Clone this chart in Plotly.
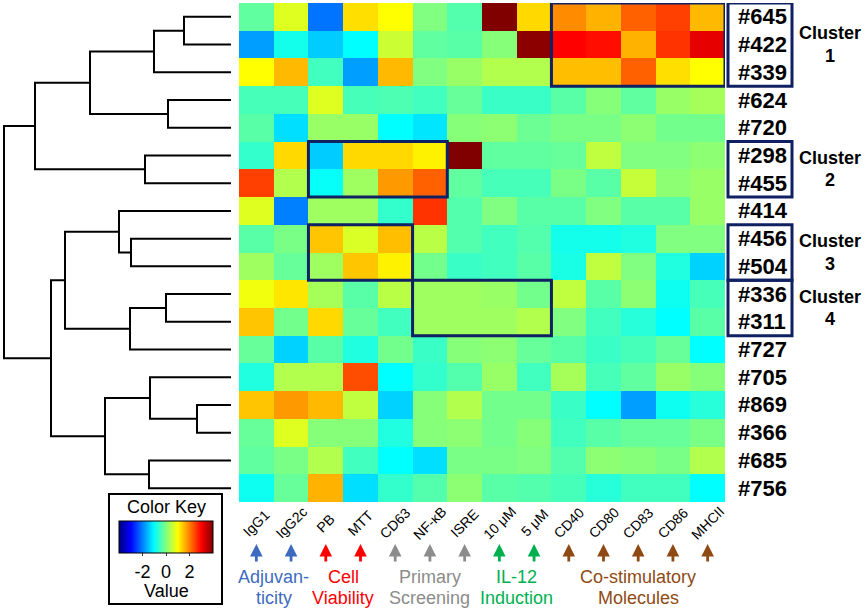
import plotly.graph_objects as go

# ---------------- data ----------------
columns = ["IgG1", "IgG2c", "PB", "MTT", "CD63", "NF-κB", "ISRE",
           "10 μM", "5 μM", "CD40", "CD80", "CD83", "CD86", "MHCII"]
rows = ["#645", "#422", "#339", "#624", "#720", "#298", "#455", "#414", "#456",
        "#504", "#336", "#311", "#727", "#705", "#869", "#366", "#685", "#756"]

r645 = [-0.25, 0.75, -2.1, 1.25, 1.0, 0.0, -0.35, 4.0, 1.3, 1.9, 1.6, 2.25, 2.5, 1.55]
r422 = [-1.75, -0.85, -1.4, -1.0, 0.6, -0.25, -0.3, 0.05, 3.9, 3.0, 2.9, 1.6, 2.6, 3.2]
r339 = [1.0, 1.55, -0.5, -1.75, 1.55, 0.0, 0.2, 0.4, 0.4, 1.5, 1.5, 2.25, 1.25, 1.0]
r624 = [-0.45, -0.45, 0.75, -0.45, -0.4, -0.5, -0.2, -0.55, -0.55, -0.3, 0.05, -0.25, 0.2, 0.3]
r720 = [-0.3, -1.25, 0.2, 0.2, -1.0, -1.2, 0.05, 0.1, -0.15, -0.05, -0.05, 0.1, -0.1, -0.1]
r298 = [-0.6, 1.3, -1.4, 1.3, 1.3, 1.1, 4.0, -0.25, -0.25, -0.2, 0.5, 0.0, 0.0, 0.1]
r455 = [2.5, 0.4, -0.95, 0.25, 1.8, 2.25, -0.25, -0.45, -0.45, -0.05, -0.3, 0.55, 0.1, 0.2]
r414 = [0.75, -2.0, 0.25, 0.25, -0.6, 2.6, -0.35, 0.0, -0.3, -0.3, 0.0, -0.3, -0.3, 0.2]
r456 = [-0.3, -0.05, 1.45, 0.7, 1.5, 0.45, -0.35, -0.5, -0.35, -0.85, -0.85, -0.75, 0.0, 0.0]
r504 = [0.25, -0.2, 0.25, 1.45, 1.1, -0.1, -0.55, -0.5, -0.3, -0.8, 0.5, 0.0, -0.75, -1.35]
r336 = [0.9, 1.2, 0.3, -0.3, 0.45, 0.25, 0.25, 0.2, -0.1, 0.5, -0.3, 0.1, -0.9, -0.45]
r311 = [1.45, -0.1, 1.3, -0.2, -0.5, 0.25, 0.25, 0.25, 0.4, 0.0, -0.5, -0.7, -1.0, -0.3]
r727 = [-0.2, -1.35, -0.3, -0.75, -0.1, -0.55, 0.05, 0.1, -0.2, -0.3, -0.55, -0.45, -0.2, -1.0]
r705 = [-0.75, 0.4, 0.4, 2.4, -1.0, -0.6, -0.35, 0.2, -0.5, 0.3, -0.45, -0.25, 0.2, 0.05]
r869 = [1.45, 1.8, 1.55, 0.5, -1.35, 0.05, 0.4, -0.1, -0.1, -0.55, -1.0, -1.75, -0.9, -0.7]
r366 = [-0.2, 0.75, 0.05, 0.05, -0.75, 0.05, 0.1, -0.1, 0.05, -0.5, -0.3, -0.2, -0.2, -0.05]
r685 = [-0.25, -0.05, 0.4, -0.5, -1.0, -1.25, -0.05, -0.05, 0.0, -0.35, 0.1, 0.05, -0.05, 0.4]
r756 = [-0.9, -0.2, 1.6, -1.25, -0.6, -0.35, 0.1, -0.3, -0.35, -0.45, -0.7, -0.5, -0.5, -1.0]
values = [r645, r422, r339, r624, r720, r298, r455, r414, r456,
          r504, r336, r311, r727, r705, r869, r366, r685, r756]

# dendrogram linkage (leaf indices in display order, new nodes numbered from 18)
link_left = [0, 18, 3, 19, 5, 21, 8, 7, 10, 26, 25, 14, 13, 16, 30, 28, 23]
link_right = [1, 2, 4, 20, 6, 22, 9, 24, 11, 12, 27, 15, 29, 17, 31, 32, 33]
link_height = [2.35, 3.85, 3.15, 7.05, 4.3, 9.8, 5.0, 5.6, 3.25, 5.05, 8.3,
               1.7, 4.05, 4.1, 6.3, 9.0, 11.35]

categories = [("Adjuvan-", "ticity", "#3d6bbf", 0.5),
              ("Cell", "Viability", "#ff0000", 2.5),
              ("Primary", "Screening", "#8c8c8c", 5.0),
              ("IL-12", "Induction", "#00b050", 7.5),
              ("Co-stimulatory", "Molecules", "#8f4a14", 11.0)]
arrow_colors = ["#3d6bbf", "#3d6bbf", "#ff0000", "#ff0000", "#8c8c8c", "#8c8c8c", "#8c8c8c",
                "#00b050", "#00b050", "#8f4a14", "#8f4a14", "#8f4a14", "#8f4a14", "#8f4a14"]

# highlighted blocks: (row0, row1, col0, col1)
heat_boxes = [(0, 2, 9, 13), (5, 6, 2, 5), (8, 9, 2, 4), (10, 11, 5, 8)]
clusters = [("1", 0, 2), ("2", 5, 6), ("3", 8, 9), ("4", 10, 11)]

W, H = 865, 611
FONT = "Liberation Sans, Arial, sans-serif"
NAVY = "#0f2163"

def px_x(p):
    return p / W

def px_y(p):
    return (H - p) / H

jet = [[0.0, "rgb(0,0,128)"], [0.125, "rgb(0,0,255)"], [0.375, "rgb(0,255,255)"],
       [0.625, "rgb(255,255,0)"], [0.875, "rgb(255,0,0)"], [1.0, "rgb(128,0,0)"]]

fig = go.Figure()

fig.add_trace(go.Heatmap(
    z=values, x=list(range(len(columns))), y=list(range(len(rows))),
    colorscale=jet, zmin=-4, zmax=4, xgap=0, ygap=0,
    colorbar=dict(orientation="h", thickness=32, thicknessmode="pixels",
                  len=94, lenmode="pixels", x=px_x(166), xanchor="center",
                  y=px_y(521), yanchor="top", xpad=0, ypad=0,
                  outlinewidth=1, outlinecolor="black",
                  tickvals=[-2, 0, 2], ticktext=["-2", "0", "2"],
                  ticks="outside", ticklen=3, tickcolor="#333",
                  tickfont=dict(family=FONT, size=18, color="black")),
    hoverinfo="skip"))

# dendrogram
pos = {i: float(i) for i in range(len(rows))}
hgt = {i: 0.0 for i in range(len(rows))}
dx, dy = [], []
for k, (a, b, h) in enumerate(zip(link_left, link_right, link_height)):
    node = len(rows) + k
    dx += [hgt[a], h, h, hgt[b], None]
    dy += [pos[a], pos[a], pos[b], pos[b], None]
    pos[node] = (pos[a] + pos[b]) / 2
    hgt[node] = h
fig.add_trace(go.Scatter(x=dx, y=dy, mode="lines", xaxis="x2", yaxis="y",
                         line=dict(color="black", width=2), hoverinfo="skip",
                         showlegend=False))

shapes = []
for r0, r1, c0, c1 in heat_boxes:
    shapes.append(dict(type="rect", xref="x", yref="y", x0=c0 - 0.5, x1=c1 + 0.5,
                       y0=r0 - 0.5, y1=r1 + 0.5, line=dict(color=NAVY, width=3)))
for name, r0, r1 in clusters:
    shapes.append(dict(type="rect", xref="paper", yref="y", x0=px_x(728), x1=px_x(792),
                       y0=r0 - 0.5, y1=r1 + 0.5, line=dict(color=NAVY, width=3)))
# color key frame
shapes.append(dict(type="rect", xref="paper", yref="paper", x0=px_x(109), x1=px_x(222),
                   y0=px_y(604), y1=px_y(494), line=dict(color="black", width=2)))

ann = []
for i, r in enumerate(rows):
    ann.append(dict(x=px_x(736), xref="paper", y=i, yref="y", text="<b>%s</b>" % r,
                    showarrow=False, xanchor="left", yanchor="middle",
                    font=dict(family=FONT, size=22, color="black")))
for name, r0, r1 in clusters:
    mid = (r0 + r1) / 2
    ann.append(dict(x=px_x(830), xref="paper", y=mid - 0.4, yref="y",
                    text="<b>Cluster</b>", showarrow=False, xanchor="center",
                    yanchor="middle", font=dict(family=FONT, size=18, color="black")))
    ann.append(dict(x=px_x(830), xref="paper", y=mid + 0.4, yref="y",
                    text="<b>%s</b>" % name, showarrow=False, xanchor="center",
                    yanchor="middle", font=dict(family=FONT, size=18, color="black")))
for j, c in enumerate(columns):
    ann.append(dict(x=j, xref="x", y=px_y(523), yref="paper", text=c, textangle=-45,
                    showarrow=False, xanchor="center", yanchor="middle",
                    font=dict(family=FONT, size=14, color="black")))
    ann.append(dict(x=j, xref="x", y=px_y(544), yref="paper", text="", showarrow=True,
                    ax=0, ay=19, arrowhead=2, arrowsize=0.9,
                    arrowwidth=2.8, arrowcolor=arrow_colors[j]))
for l1, l2, col, xc in categories:
    ann.append(dict(x=xc, xref="x", y=px_y(577), yref="paper", text=l1, showarrow=False,
                    xanchor="center", yanchor="middle",
                    font=dict(family=FONT, size=18, color=col)))
    ann.append(dict(x=xc, xref="x", y=px_y(598), yref="paper", text=l2, showarrow=False,
                    xanchor="center", yanchor="middle",
                    font=dict(family=FONT, size=18, color=col)))
ann.append(dict(x=px_x(166), xref="paper", y=px_y(507), yref="paper", text="Color Key",
                showarrow=False, xanchor="center", yanchor="middle",
                font=dict(family=FONT, size=18, color="black")))
ann.append(dict(x=px_x(166), xref="paper", y=px_y(591), yref="paper", text="Value",
                showarrow=False, xanchor="center", yanchor="middle",
                font=dict(family=FONT, size=18, color="black")))

fig.update_layout(
    width=W, height=H, margin=dict(l=0, r=0, t=0, b=0),
    paper_bgcolor="white", plot_bgcolor="white", showlegend=False,
    xaxis=dict(domain=[px_x(239), px_x(725)], range=[-0.5, len(columns) - 0.5],
               showticklabels=False, showgrid=False, zeroline=False, ticks=""),
    yaxis=dict(domain=[px_y(502), px_y(3)], range=[len(rows) - 0.5, -0.5],
               showticklabels=False, showgrid=False, zeroline=False, ticks=""),
    xaxis2=dict(domain=[0, px_x(231)], range=[231 / 20, 0], anchor="y",
                showticklabels=False, showgrid=False, zeroline=False, ticks=""),
    shapes=shapes, annotations=ann,
)

fig.write_html("out.html", config={"displayModeBar": False},
               post_script="document.body.style.margin='0';document.body.style.overflow='hidden';")
